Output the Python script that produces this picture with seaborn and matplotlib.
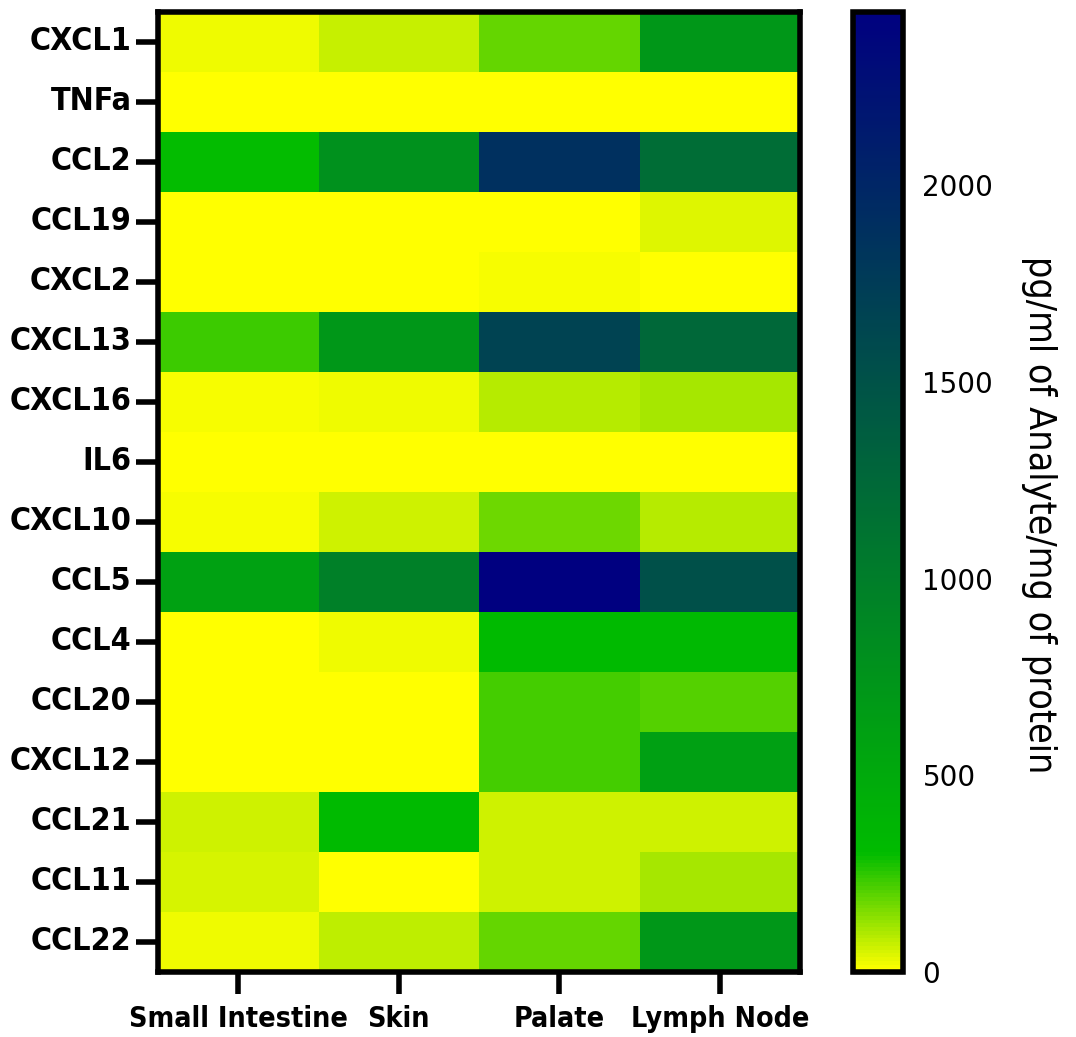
import numpy as np
import pandas as pd
import matplotlib
matplotlib.use("Agg")
import matplotlib.pyplot as plt
from matplotlib.colors import LinearSegmentedColormap
import seaborn as sns

analytes = ["CXCL1", "TNFa", "CCL2", "CCL19", "CXCL2", "CXCL13", "CXCL16", "IL6",
            "CXCL10", "CCL5", "CCL4", "CCL20", "CXCL12", "CCL21", "CCL11", "CCL22"]
tissues = ["Small Intestine", "Skin", "Palate", "Lymph Node"]

small_intestine = [20, 2, 300, 0, 3, 234, 15, 3, 18, 600, 2, 1, 2, 65, 55, 20]
skin = [75, 2, 790, 0, 3, 707, 20, 2, 65, 975, 20, 2, 8, 305, 3, 77]
palate = [187, 1, 1880, 0, 18, 1670, 93, 0, 178, 2440, 310, 225, 225, 60, 65, 187]
lymph_node = [707, 2, 1200, 46, 2, 1250, 112, 2, 90, 1520, 330, 206, 610, 60, 112, 707]

cbar_ticks = [0, 500, 1000, 1500, 2000]
cbar_label = "pg/ml of Analyte/mg of protein"

df = pd.DataFrame({tissues[0]: small_intestine, tissues[1]: skin,
                   tissues[2]: palate, tissues[3]: lymph_node}, index=analytes)

vmax = float(df.values.max())
green_at = 300.0
cmap = LinearSegmentedColormap.from_list(
    "ygb", [(0.0, "#FFFF00"), (green_at / vmax, "#00BB00"), (1.0, "#000080")])

sns.set_style("white")
plt.rcParams["font.family"] = ["DejaVu Sans"]
plt.rcParams["text.color"] = "black"
plt.rcParams["axes.labelcolor"] = "black"
plt.rcParams["xtick.color"] = "black"
plt.rcParams["ytick.color"] = "black"

fig = plt.figure(figsize=(10.76, 10.37), dpi=100)
W, H = 1076, 1037
ax = fig.add_axes([158 / W, 1 - 972 / H, (800 - 158) / W, (972 - 12) / H])
cax = fig.add_axes([853 / W, 1 - 972 / H, 50 / W, (972 - 12) / H])

sns.heatmap(df, ax=ax, cbar_ax=cax, cmap=cmap, vmin=0, vmax=vmax,
            cbar_kws={"ticks": cbar_ticks})

for s in ax.spines.values():
    s.set_visible(True)
    s.set_linewidth(4)
    s.set_color("black")

ax.tick_params(axis="y", length=16, width=4, color="black", pad=3, left=True)
ax.tick_params(axis="x", length=16, width=4, color="black", pad=8, bottom=True)
ax.set_yticklabels(analytes, rotation=0, fontsize=23, fontweight="bold",
                   family="DejaVu Sans", fontstretch="condensed", color="black")
ax.set_xticklabels(tissues, rotation=0, fontsize=20.5, fontweight="bold",
                   family="DejaVu Sans", fontstretch="condensed", color="black")
ax.set_xlabel("")
ax.set_ylabel("")

cbar = ax.collections[0].colorbar
cbar.outline.set_linewidth(4)
cbar.outline.set_edgecolor("black")
cax.tick_params(axis="y", direction="in", length=10, width=3, left=True, right=True,
                labelsize=20, pad=14, colors="black")
cbar.set_label(cbar_label, rotation=270, labelpad=46, fontsize=27,
               family="DejaVu Sans", fontstretch="condensed", fontweight="normal",
               color="black")
cax.yaxis.label.set_y(0.476)

fig.savefig("out.png", dpi=100, facecolor="white")
